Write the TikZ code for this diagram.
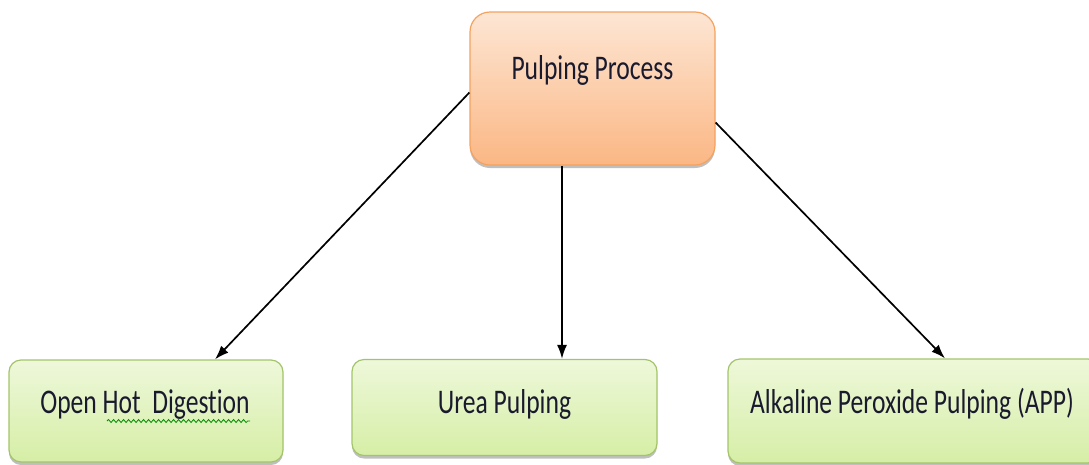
\documentclass[tikz,border=0pt]{standalone}
\usepackage{fontspec}
\setmainfont{Carlito}[Ligatures=NoCommon]
\usetikzlibrary{arrows.meta,shadows,decorations.pathmorphing}
\definecolor{orgtop}{HTML}{FDE6D4}
\definecolor{orgbot}{HTML}{FBB784}
\definecolor{orgline}{HTML}{F5A25F}
\definecolor{grntop}{HTML}{EEF8DA}
\definecolor{grnbot}{HTML}{D6EEA6}
\definecolor{grnline}{HTML}{A3C46A}
\definecolor{txt}{HTML}{1A1A2E}
\tikzset{
  topbox/.style={draw=orgline, line width=1.2pt, rounded corners=20pt, top color=orgtop, bottom color=orgbot,
    minimum width=245pt, minimum height=153pt, inner sep=0pt,
    drop shadow={shadow xshift=0pt, shadow yshift=-3pt, opacity=0.5}},
  leafbox/.style={draw=grnline, line width=1.2pt, rounded corners=12pt, top color=grntop, bottom color=grnbot,
    inner sep=0pt, drop shadow={shadow xshift=0pt, shadow yshift=-3pt, opacity=0.5}},
  lbl/.style={font=\fontsize{25.6}{30}\selectfont, text=txt, inner sep=0pt},
  conn/.style={line width=1.7pt, -{Latex[length=14pt,width=10pt]}},
}
\newcommand{\tall}[1]{\scalebox{1}[1.35]{#1}}
\begin{document}
\begin{tikzpicture}[x=1pt,y=-1pt]
\useasboundingbox (0,0) rectangle (1089,464);
\node[topbox] (pp) at (592.5,88.5) {};
\node[lbl] (ppt) at (592.5,70) {\tall{Pulping Process}};
\node[leafbox, minimum width=274pt, minimum height=102pt] (odh) at (146,411) {};
\node[lbl] (odht) at (145,405) {\tall{Open Hot\ \ Digestion}};
\node[leafbox, minimum width=305pt, minimum height=96pt] (urea) at (504.5,407.5) {};
\node[lbl] (ureat) at (504.5,404) {\tall{Urea Pulping}};
\node[leafbox, minimum width=372pt, minimum height=104pt] (app) at (914,411) {};
\node[lbl] (appt) at (912,404) {\tall{Alkaline Peroxide Pulping (APP)}};
\coordinate (sq1) at (107,421);
\coordinate (sq2) at (250,421);
\draw[green!55!black, line width=0.8pt, decorate, decoration={snake, segment length=5pt, amplitude=1.5pt}] (sq1) -- (sq2);
\draw[conn] ([yshift=-4pt]pp.west) -- ([xshift=69pt]odh.north);
\draw[conn] ([xshift=-30.5pt]pp.south) -- ([xshift=57.5pt]urea.north);
\draw[conn] ([yshift=-34pt]pp.east) -- ([xshift=31pt]app.north);
\end{tikzpicture}
\end{document}
